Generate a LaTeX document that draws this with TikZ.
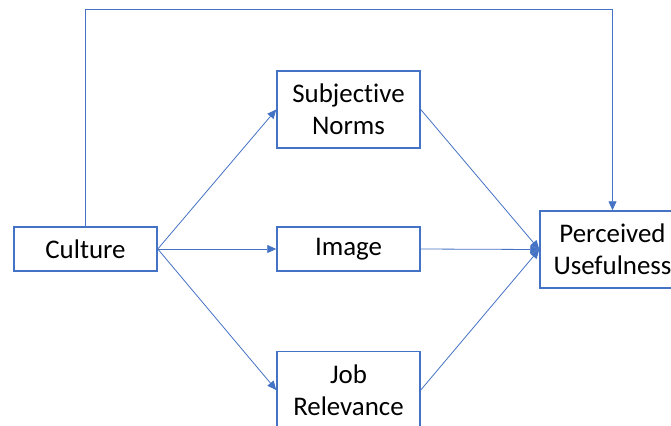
\documentclass[tikz,border=0pt]{standalone}
\usepackage{fontspec}
\setmainfont{Carlito}[Ligatures=NoCommon]
\usetikzlibrary{arrows.meta}
\definecolor{lineblue}{HTML}{4472C4}
\begin{document}
\begin{tikzpicture}[x=1bp,y=-1bp,
  box/.style={draw=lineblue, line width=1.5bp, fill=white, minimum width=143bp,
    align=center, inner sep=0pt, font=\fontsize{27}{32}\selectfont},
  link/.style={draw=lineblue, line width=0.8bp, -{Triangle[length=9bp,width=8bp]}}]
\useasboundingbox (0,0) rectangle (671,425);
\clip (0,0) rectangle (671,425);
% boxes
\node[box, minimum height=44bp] (culture) at (85.5,249) {Culture};
\node[box, minimum height=77bp] (sn) at (348.5,109.5) {Subjective\\Norms};
\node[box, minimum height=44bp] (image) at (348.5,249) {Image};
\node[box, minimum height=77bp] (jr) at (348.5,390) {Job\\Relevance};
\node[box, minimum height=77bp, minimum width=145bp] (pu) at (612.5,249.5) {Perceived\\Usefulness};
% routing point for the direct path over the top
\coordinate (top) at (0,9);
% connectors
\draw[link] (culture.north) -- (culture.north |- top) -| (pu.north);
\draw[link] (culture.east) -- (sn.west);
\draw[link] (culture.east) -- (image.west);
\draw[link] (culture.east) -- (jr.west);
\draw[link] (sn.east) -- (pu.west);
\draw[link] (image.east) -- (pu.west);
\draw[link] (jr.east) -- (pu.west);
\end{tikzpicture}
\end{document}
